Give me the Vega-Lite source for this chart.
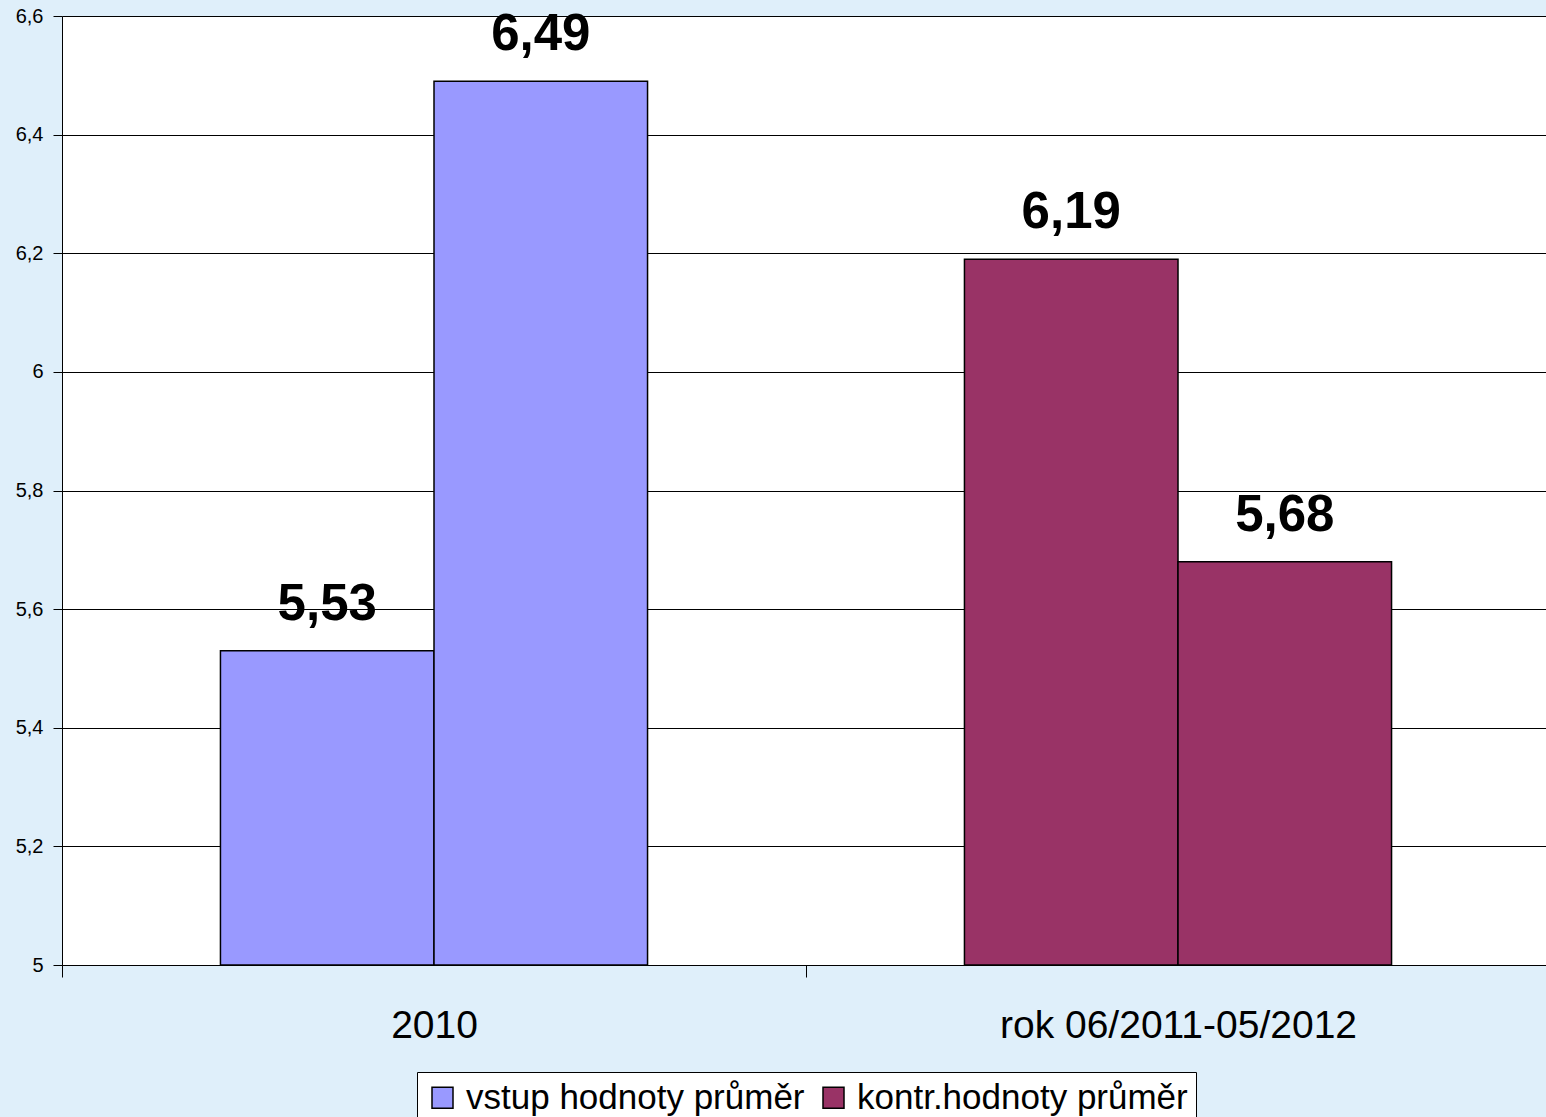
{
  "$schema": "https://vega.github.io/schema/vega-lite/v6.json",
  "width": 1488,
  "height": 949,
  "autosize": {"type": "none"},
  "padding": {"left": 62, "top": 16, "right": 0, "bottom": 152},
  "background": "#DFEFFA",
  "config": {
    "locale": {"number": {"decimal": ",", "thousands": " ", "grouping": [3], "currency": ["", " Kč"]}},
    "view": {"stroke": null, "fill": "white"},
    "font": "Liberation Sans"
  },
  "data": {
    "values": [
      {"cat": "2010", "sub": "1", "value": 5.53, "series": "vstup hodnoty průměr"},
      {"cat": "2010", "sub": "2", "value": 6.49, "series": "vstup hodnoty průměr"},
      {"cat": "rok 06/2011-05/2012", "sub": "1", "value": 6.19, "series": "kontr.hodnoty průměr"},
      {"cat": "rok 06/2011-05/2012", "sub": "2", "value": 5.68, "series": "kontr.hodnoty průměr"}
    ]
  },
  "encoding": {
    "x": {
      "field": "cat", "type": "nominal", "sort": null,
      "scale": {"paddingInner": 0, "paddingOuter": 0},
      "axis": {
        "title": null, "labelAngle": 0, "tickBand": "extent", "tickSize": 12,
        "tickColor": "black", "domainColor": "black", "labelFontSize": 39,
        "labelColor": "black", "labelPadding": 29, "labelLimit": 0
      }
    },
    "xOffset": {"field": "sub", "type": "nominal", "scale": {"paddingInner": 0, "paddingOuter": 0.742}},
    "y": {
      "field": "value", "type": "quantitative",
      "scale": {"domain": [5, 6.6], "zero": false, "nice": false},
      "axis": {
        "title": null, "values": [5, 5.2, 5.4, 5.6, 5.8, 6, 6.2, 6.4, 6.6],
        "format": ".1~f", "grid": true, "gridColor": "black", "gridOpacity": 1,
        "tickColor": "black", "tickSize": 9, "domainColor": "black",
        "labelFontSize": 20, "labelColor": "black", "labelPadding": 10
      }
    }
  },
  "layer": [
    {
      "mark": {"type": "bar", "stroke": "black", "strokeWidth": 1.5},
      "encoding": {
        "y2": {"datum": 5},
        "color": {
          "field": "series", "type": "nominal",
          "scale": {"domain": ["vstup hodnoty průměr", "kontr.hodnoty průměr"], "range": ["#9999FF", "#993366"]},
          "legend": {
            "title": null, "orient": "none", "legendX": 355, "legendY": 1056,
            "direction": "horizontal", "fillColor": "white", "strokeColor": "black",
            "padding": 8, "symbolType": "square", "symbolSize": 441,
            "symbolStrokeColor": "black", "symbolStrokeWidth": 1.5, "symbolOpacity": 1,
            "labelFontSize": 35, "labelColor": "black", "labelOffset": 6,
            "columnPadding": 11, "labelLimit": 0
          }
        }
      }
    },
    {
      "mark": {"type": "text", "fontSize": 51, "fontWeight": "bold", "baseline": "alphabetic", "dy": -31, "color": "black"},
      "encoding": {
        "text": {"field": "value", "type": "quantitative", "format": ".2f"}
      }
    }
  ]
}
